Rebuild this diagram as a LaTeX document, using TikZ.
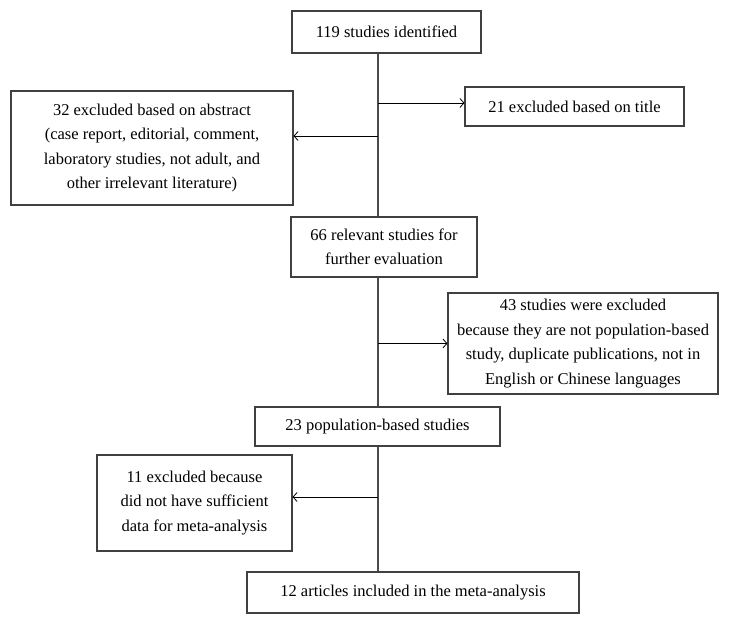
\documentclass[tikz,border=0pt]{standalone}
\usepackage{fontspec}
\setmainfont{Liberation Serif}
\usepackage{tikz}
\usetikzlibrary{arrows.meta, positioning}

\begin{document}
\begin{tikzpicture}[x=1pt, y=-1pt,
        box/.style={draw=black!75, line width=1.1pt, fill=white, inner sep=0pt, align=center,
                    font=\fontsize{16.5}{24.5}\selectfont},
        spine/.style={draw=black!70, line width=1.6pt},
        arr/.style={line width=0.8pt, -{Straight Barb[length=4pt, width=9pt]}}]
                \useasboundingbox (0, 0) rectangle (729, 623);

                \node[box, minimum width=189pt, minimum height=42pt] (id) at (386.5, 32) {119 studies identified};
                \node[box, minimum width=219pt, minimum height=39pt] (title) at (574.5, 106.5) {21 excluded based on title};
                \node[box, minimum width=282pt, minimum height=114pt] (abs) at (152, 148) {32 excluded based on abstract\\(case report, editorial, comment,\\laboratory studies, not adult, and\\other irrelevant literature)};
                \node[box, minimum width=186pt, minimum height=60pt] (rel) at (384, 247) {66 relevant studies for\\further evaluation};
                \node[box, minimum width=270pt, minimum height=101pt] (nonpop) at (583, 343.5) {43 studies were excluded\\because they are not population-based\\study, duplicate publications, not in\\English or Chinese languages};
                \node[box, minimum width=245pt, minimum height=39pt] (pop) at (377.5, 426.5) {23 population-based studies};
                \node[box, minimum width=195pt, minimum height=96pt] (insuf) at (194.5, 503) {11 excluded because\\did not have sufficient\\data for meta-analysis};
                \node[box, minimum width=332pt, minimum height=41pt] (incl) at (413, 592.5) {12 articles included in the meta-analysis};

                \coordinate (s) at (378, 0);

                \draw[spine] (s |- id.south) -- (s |- rel.north);
                \draw[spine] (s |- rel.south) -- (s |- pop.north);
                \draw[spine] (s |- pop.south) -- (s |- incl.north);

                \draw[arr] ([yshift=3.5pt]s |- title.west) -- ([yshift=3.5pt]title.west);
                \draw[arr] ([yshift=12pt]s |- abs.east) -- ([yshift=12pt]abs.east);
                \draw[arr] (s |- nonpop.west) -- (nonpop.west);
                \draw[arr] ([yshift=6pt]s |- insuf.east) -- ([yshift=6pt]insuf.east);
            \end{tikzpicture}
\end{document}
